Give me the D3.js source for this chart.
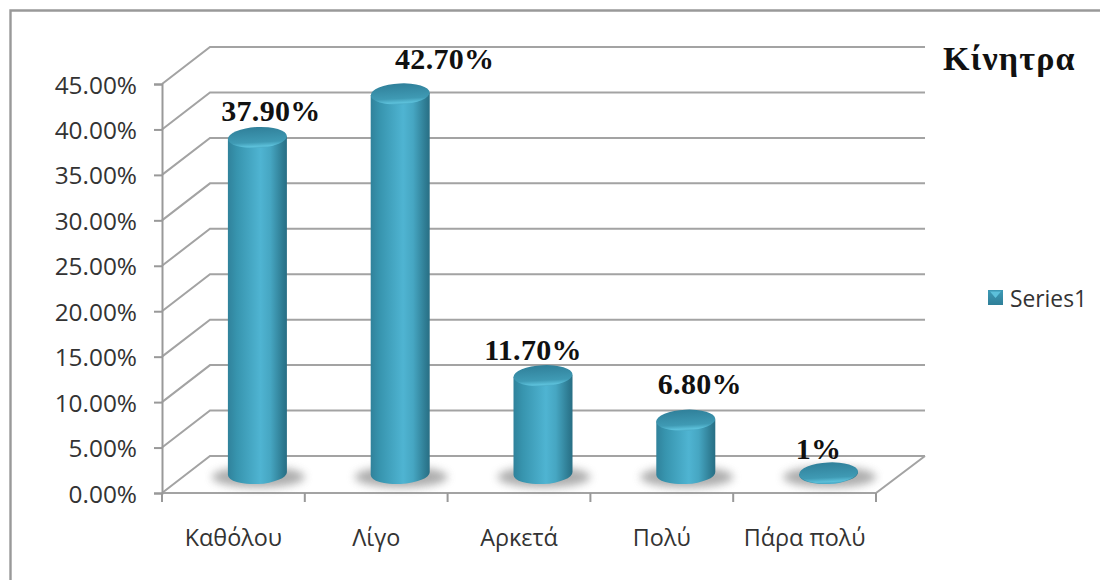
<!DOCTYPE html>
<html><head><meta charset="utf-8">
<style>html,body{margin:0;background:#fff}svg{display:block}</style>
<script src="https://cdn.jsdelivr.net/npm/d3@7/dist/d3.min.js"></script>
</head><body><svg id="c" width="1100" height="580"></svg>
<script>
const categories = ["Καθόλου","Λίγο","Αρκετά","Πολύ","Πάρα πολύ"];
const values = [37.9,42.7,11.7,6.8,1];
const valueLabels = ["37.90%","42.70%","11.70%","6.80%","1%"];
const yTicks = [0,5,10,15,20,25,30,35,40,45];
const title = "Κίνητρα";
const seriesName = "Series1";

const svg = d3.select("#c");
const depth = {x:48, y:-37};
const y = d3.scaleLinear().domain([0,45]).range([493,84]);
const x = d3.scaleBand().domain(categories).range([162,876]).paddingInner(0).paddingOuter(0);
const gridColor = "#a3a3a3", axisColor = "#999";
const backRight = 876 + depth.x + 1;

const defs = svg.append("defs");
const side = defs.append("linearGradient").attr("id","side");
[[0,"#30829b"],[.15,"#3794ae"],[.55,"#4fb4d2"],[.72,"#46a6c2"],[.92,"#2f7d94"],[1,"#286e84"]]
  .forEach(([o,c])=>side.append("stop").attr("offset",o).attr("stop-color",c));
const cap = defs.append("linearGradient").attr("id","cap").attr("x1",0).attr("y1",0).attr("x2",0).attr("y2",1);
[[0,"#30809a"],[.72,"#3f9ab4"],[.92,"#5cc0da"],[1,"#4aaac6"]]
  .forEach(([o,c])=>cap.append("stop").attr("offset",o).attr("stop-color",c));
defs.append("filter").attr("id","soft").attr("x","-30%").attr("y","-60%").attr("width","160%").attr("height","220%")
  .append("feGaussianBlur").attr("stdDeviation",4);
const tile = defs.append("linearGradient").attr("id","tile").attr("x1",0).attr("y1",0).attr("x2",0).attr("y2",1);
[[0,"#3d9ab6"],[1,"#2f7f98"]].forEach(([o,c])=>tile.append("stop").attr("offset",o).attr("stop-color",c));

// outer chart frame
svg.append("path").attr("d","M10.5,580V10.5H1100").attr("fill","none").attr("stroke","#999").attr("stroke-width",2.4);

// gridlines wrap from the side wall onto the back wall
svg.append("g").selectAll("path").data(yTicks).join("path")
  .attr("d",t=>`M162,${y(t)}L${162+depth.x},${y(t)+depth.y}H${backRight}`)
  .attr("fill","none").attr("stroke",gridColor).attr("stroke-width",2);

// floor edges
svg.append("path").attr("d",`M162,${y(0)}H876L${backRight},${y(0)+depth.y}`)
  .attr("fill","none").attr("stroke",gridColor).attr("stroke-width",2);

// value axis
const yAxis = svg.append("g").attr("transform","translate(162,0)")
  .call(d3.axisLeft(y).tickValues(yTicks).tickSize(8).tickPadding(17).tickFormat(d=>d3.format(".2f")(d)+"%"));
yAxis.selectAll("path,line").attr("stroke",axisColor).attr("stroke-width",2);
yAxis.selectAll("text").attr("font-family","'Open Sans'").attr("font-size",24.4).attr("fill","#333").attr("dy","0.37em");

// category axis
const tickXs = categories.map(c=>x(c)).concat(876);
svg.append("g").selectAll("line").data(tickXs).join("line")
  .attr("x1",d=>d).attr("x2",d=>d).attr("y1",y(0)).attr("y2",y(0)+9)
  .attr("stroke",axisColor).attr("stroke-width",2);
svg.append("g").selectAll("text").data(categories).join("text")
  .attr("x",c=>x(c)+x.bandwidth()/2).attr("y",546).attr("text-anchor","middle")
  .attr("font-family","'Open Sans'").attr("font-size",23.4).attr("fill","#333").text(c=>c);

// cylinders: floor shadow, body, top cap
const rx = 29.5, ry = 10.5, baseY = 473.5;
const cx = c => x(c)+x.bandwidth()/2+depth.x/2;
const topY = v => y(v)-11;
const bars = svg.append("g").selectAll("g").data(categories.map((c,i)=>({c,v:values[i],l:valueLabels[i],i}))).join("g");
bars.append("ellipse").attr("cx",d=>cx(d.c)+1).attr("cy",baseY+3.5).attr("rx",rx+17).attr("ry",ry)
  .attr("fill","#777").attr("opacity",.6).attr("filter","url(#soft)");
bars.append("path").attr("fill","url(#side)")
  .attr("d",d=>{const l=cx(d.c)-rx,r=cx(d.c)+rx,t=topY(d.v);
    return `M${l},${t+1}V${baseY+1.5}A${rx},${ry} -3 0 0 ${r},${baseY-1.5}V${t-1}Z`;});
bars.append("ellipse").attr("cx",d=>cx(d.c)).attr("cy",d=>topY(d.v)).attr("rx",rx).attr("ry",ry)
  .attr("transform",d=>`rotate(-3 ${cx(d.c)} ${topY(d.v)})`).attr("fill","url(#cap)");

// value labels sit by hand above each cylinder, each with its own nudge
const labelNudgeX = [13.5,44.5,-10,14,-10];
const labelNudgeY = [-17,-25,-16,-26,-14];
bars.append("text").attr("x",d=>cx(d.c)+labelNudgeX[d.i]).attr("y",d=>topY(d.v)+labelNudgeY[d.i]).attr("text-anchor","middle")
  .attr("font-family","'Liberation Serif'").attr("font-weight","bold").attr("font-size",30).attr("letter-spacing",0.3).attr("fill","#111").text(d=>d.l);

// title
svg.append("text").attr("x",943).attr("y",70).attr("font-family","'Liberation Serif'").attr("font-weight","bold")
  .attr("font-size",34).attr("letter-spacing",1.2).attr("fill","#111").text(title);

// legend swatch with a lighter top facet, then the series name
svg.append("rect").attr("x",988).attr("y",290).attr("width",15).attr("height",15).attr("fill","url(#tile)");
svg.append("path").attr("d","M990,291.5H1001L995.5,298Z").attr("fill","#5cc0da");
svg.append("text").attr("x",1010).attr("y",307).attr("font-family","'Open Sans'").attr("font-size",22.8).attr("fill","#333").text(seriesName);
</script></body></html>
